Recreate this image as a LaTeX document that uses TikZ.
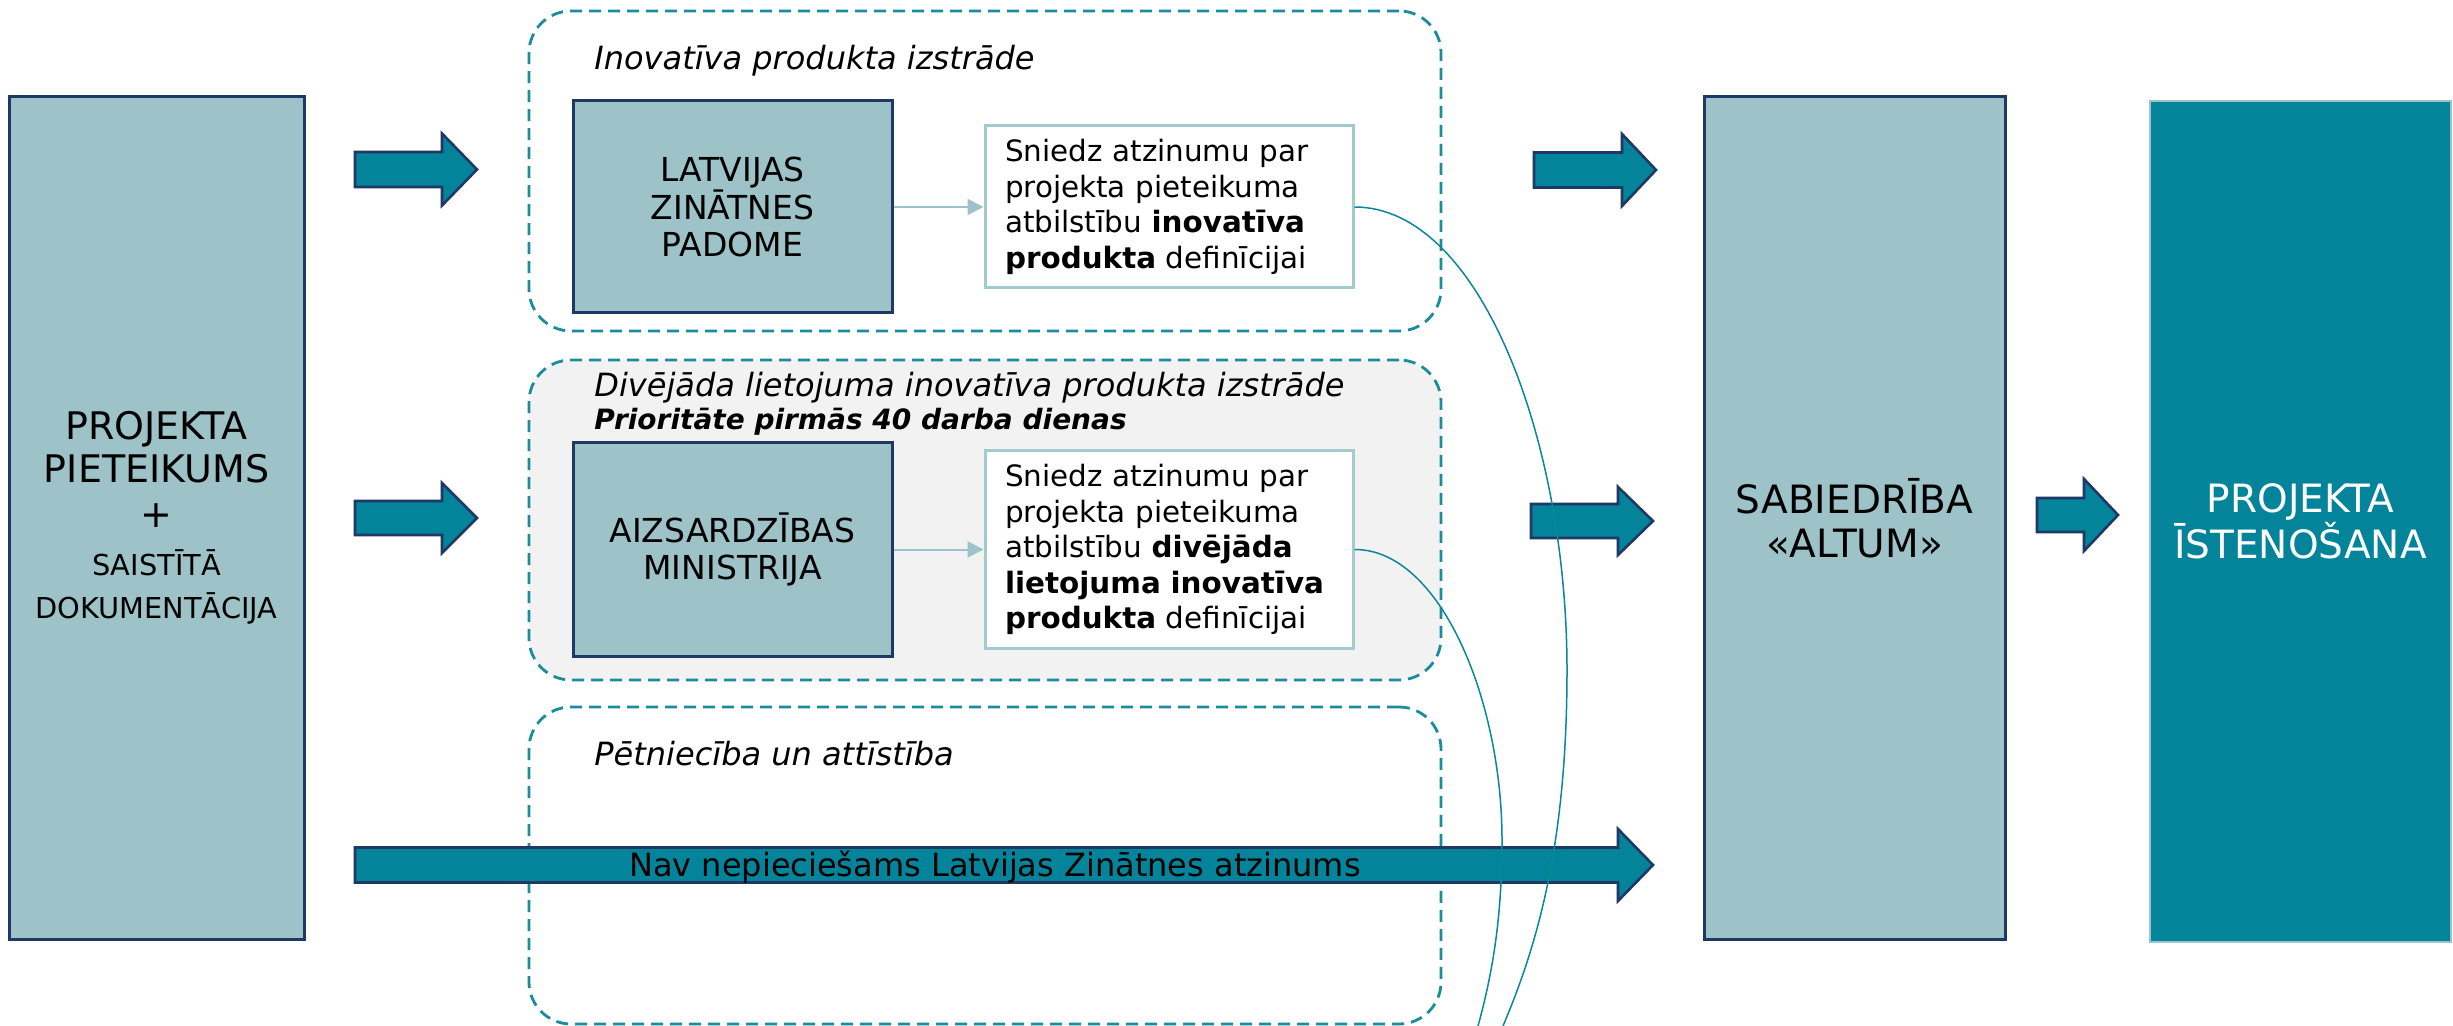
\documentclass[tikz,border=0pt]{standalone}
\usepackage{fontspec}
\setmainfont{DejaVu Sans}[BoldFont={DejaVu Sans Bold},ItalicFont={DejaVu Sans Oblique},BoldItalicFont={DejaVu Sans Bold Oblique}]
\usetikzlibrary{arrows.meta}
\definecolor{navy}{HTML}{1F3864}
\definecolor{boxfill}{HTML}{9DC3C8}
\definecolor{tealA}{HTML}{03849A}
\definecolor{dashc}{HTML}{1A8C9C}
\definecolor{grayfill}{HTML}{F2F2F2}
\definecolor{opinionb}{HTML}{A3CACF}
\definecolor{curvec}{HTML}{0B8799}
\newcommand{\blockarrow}[6]{% tail x, head base x, tip x, centre y, shaft half, head half
  \draw[blockarr] (#1,#4-#5) -- (#2,#4-#5) -- (#2,#4-#6) -- (#3,#4) -- (#2,#4+#6) -- (#2,#4+#5) -- (#1,#4+#5) -- cycle;}
\newcommand{\smallsz}{\fontsize{14.4pt}{16pt}\selectfont}
\begin{document}
\begin{tikzpicture}[x=0.5pt,y=-0.5pt,
  mainbox/.style={draw=navy,line width=1.5pt,fill=boxfill,inner sep=0pt,align=center},
  groupbox/.style={draw=dashc,line width=1.4pt,dash pattern=on 6pt off 3.5pt,rounded corners=21pt,inner sep=0pt},
  opinion/.style={draw=opinionb,line width=1.5pt,fill=white,inner xsep=10pt,inner ysep=0pt,text width=164pt,align=left,font=\fontsize{14.7pt}{17.75pt}\selectfont},
  blockarr/.style={draw=navy,line width=1.3pt,fill=tealA,line join=miter},
  thinarrow/.style={draw=boxfill,line width=1pt,-{Triangle[length=8pt,width=8pt]}},
  link/.style={draw=curvec,line width=0.75pt},
  grouptitle/.style={anchor=base west,inner sep=0pt,font=\fontsize{16pt}{19pt}\selectfont\itshape},
]
\useasboundingbox (0,0) rectangle (2453,1026);
\fill[white] (0,0) rectangle (2453,1026);

% group containers
\node[groupbox,minimum width=456pt,minimum height=160pt] (g1) at (985,171) {};
\node[groupbox,fill=grayfill,minimum width=456pt,minimum height=160pt] (g2) at (985,520) {};
\node[groupbox,minimum width=456pt,minimum height=158.5pt] (g3) at (985,865.5) {};

\node[grouptitle] (t1) at (594,70) {Inovatīva produkta izstrāde};
\node[grouptitle] (t2) at (594,397) {Divējāda lietojuma inovatīva produkta izstrāde};
\node[grouptitle,font=\fontsize{14pt}{17pt}\selectfont\bfseries\itshape] (t2b) at (594,430) {Prioritāte pirmās 40 darba dienas};
\node[grouptitle] (t3) at (594,765) {Pētniecība un attīstība};

% main boxes
\node[mainbox,minimum width=147.5pt,minimum height=421pt,font=\fontsize{19pt}{21.5pt}\selectfont] (app) at (156.5,518)
  {PROJEKTA\\PIETEIKUMS\\[1pt]+\\[2.5pt]\smallsz SAISTĪTĀ\\\smallsz DOKUMENTĀCIJA};
\node[mainbox,minimum width=159.5pt,minimum height=106pt,font=\fontsize{16.5pt}{18.75pt}\selectfont] (lzp) at (732.5,207)
  {LATVIJAS\\ZINĀTNES\\PADOME};
\node[mainbox,minimum width=159.5pt,minimum height=106.5pt,font=\fontsize{16.5pt}{18.75pt}\selectfont] (am) at (732.5,549.5)
  {AIZSARDZĪBAS\\MINISTRIJA};
\node[mainbox,minimum width=150.5pt,minimum height=421pt,font=\fontsize{19.5pt}{22pt}\selectfont] (altum) at (1854.5,518)
  {SABIEDRĪBA\\«ALTUM»};
\node[mainbox,draw=boxfill,line width=1pt,fill=tealA,text=white,minimum width=150.5pt,minimum height=420.5pt,font=\fontsize{19.5pt}{22pt}\selectfont] (impl) at (2300.5,521.5)
  {PROJEKTA\\ĪSTENOŠANA};

% opinion boxes
\node[opinion,minimum height=81pt] (op1) at (1169,207)
  {Sniedz atzinumu par\\projekta pieteikuma\\atbilstību \textbf{inovatīva}\\\textbf{produkta} definīcijai};
\node[opinion,minimum height=98.5pt] (op2) at (1169,549.5)
  {Sniedz atzinumu par\\projekta pieteikuma\\atbilstību \textbf{divējāda}\\\textbf{lietojuma inovatīva}\\\textbf{produkta} definīcijai};

\draw[thinarrow] (lzp.east) -- (op1.west);
\draw[thinarrow] (am.east) -- (op2.west);

% block arrows
\blockarrow{355}{442}{477}{169.5}{17.5}{36}
\blockarrow{355}{442}{477}{518}{17}{35}
\blockarrow{1534}{1622}{1656}{170}{17.5}{36}
\blockarrow{1531}{1618}{1653}{521}{17}{34}
\blockarrow{2037}{2084}{2118}{515}{17}{36}
\blockarrow{355}{1618}{1653}{865}{17.5}{36}
\node[anchor=base,inner sep=0pt,font=\fontsize{16pt}{19pt}\selectfont] (nav) at (995,876) {Nav nepieciešams Latvijas Zinātnes atzinums};

% curved links
\coordinate (c1end) at (1503,1026);
\coordinate (c2end) at (1478,1026);
\draw[link] (op1.east) .. controls (1480,207) and (1567,440) .. (1567,670) .. controls (1567,850) and (1535,950) .. (c1end);
\draw[link] (op2.east) .. controls (1440,549) and (1502,700) .. (1502,840) .. controls (1502,920) and (1492,975) .. (c2end);
\end{tikzpicture}
\end{document}
